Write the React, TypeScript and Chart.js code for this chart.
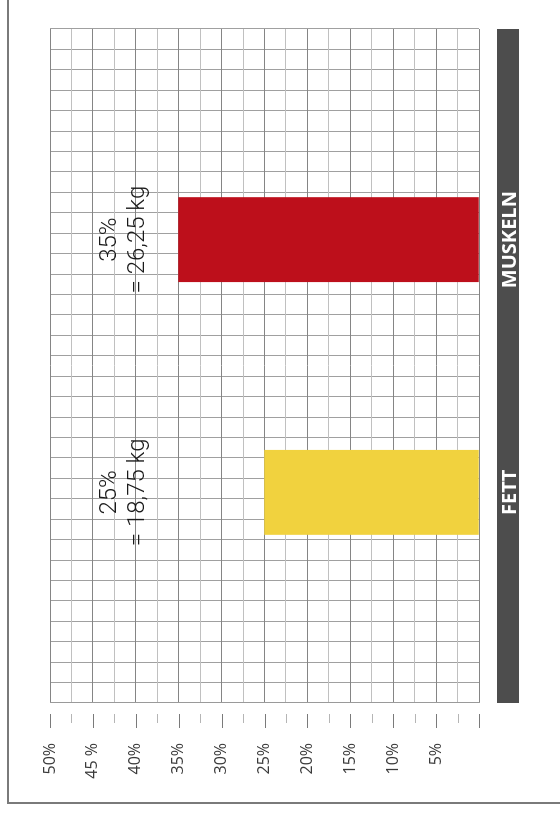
import React, { useEffect, useRef } from 'react';
import { Chart, registerables } from 'chart.js';

Chart.register(...registerables);

// ---- data ----
const categories = ['', '', 'FETT', '', '', 'MUSKELN', '', ''];
const percentValues: (number | null)[] = [null, null, 25, null, null, 35, null, null];
const kgLabels = ['', '', '= 18,75 kg', '', '', '= 26,25 kg', '', ''];
const barColors = ['', '', '#f1d23e', '', '', '#bd0f1b', '', ''];
const tickLabels = ['', '5%', '10%', '15%', '20%', '25%', '30%', '35%', '40%', '45 %', '50%'];

// ---- layout / style constants ----
const W = 802; // chart frame width (page height)
const H = 552; // chart frame height (page width)
const LINE1_AT = 43; // value-axis position of first annotation line
const LINE2_AT = 39.7; // value-axis position of second annotation line

const bandPlugin = {
  id: 'band',
  beforeDraw(chart: any) {
    const { ctx, chartArea } = chart;
    const xs = chart.scales.x;
    ctx.save();
    ctx.fillStyle = '#4d4d4d';
    ctx.fillRect(chartArea.left, xs.top + 18, chartArea.right - chartArea.left, 22);
    ctx.restore();
  },
};

const tickMarksPlugin = {
  id: 'tickMarks',
  afterDraw(chart: any) {
    const { ctx, chartArea } = chart;
    const ys = chart.scales.y;
    ctx.save();
    ctx.lineWidth = 1;
    ys.ticks.forEach((t: any) => {
      const y = Math.round(ys.getPixelForValue(t.value)) + 0.5;
      const major = t.value % 5 === 0;
      ctx.strokeStyle = major ? '#7a7a7a' : '#b5b5b5';
      ctx.beginPath();
      ctx.moveTo(chartArea.left - 11, y);
      ctx.lineTo(chartArea.left - (major ? 25 : 20), y);
      ctx.stroke();
    });
    ctx.restore();
  },
};

const valueLabelsPlugin = {
  id: 'valueLabels',
  afterDatasetsDraw(chart: any) {
    const { ctx } = chart;
    const meta = chart.getDatasetMeta(0);
    const ys = chart.scales.y;
    ctx.save();
    ctx.font = '300 24px Roboto';
    ctx.fillStyle = '#1a1a1a';
    ctx.textAlign = 'center';
    ctx.textBaseline = 'middle';
    percentValues.forEach((v, i) => {
      if (v == null) return;
      const x = meta.data[i].x;
      ctx.fillText(`${v}%`, x, ys.getPixelForValue(LINE1_AT));
      ctx.fillText(kgLabels[i], x, ys.getPixelForValue(LINE2_AT));
    });
    ctx.restore();
  },
};

export default function App() {
  const ref = useRef<HTMLCanvasElement>(null);

  useEffect(() => {
    const chart = new Chart(ref.current as HTMLCanvasElement, {
      type: 'bar',
      data: {
        labels: categories,
        datasets: [
          {
            data: percentValues,
            backgroundColor: barColors,
            barPercentage: 1,
            categoryPercentage: 1,
            borderWidth: 0,
            xAxisID: 'x',
            yAxisID: 'y',
          } as any,
        ],
      },
      options: {
        responsive: false,
        animation: false,
        layout: { padding: { top: 42, right: 29, left: 0, bottom: 0 } },
        plugins: { legend: { display: false }, tooltip: { enabled: false } },
        scales: {
          x: {
            type: 'category',
            position: 'bottom',
            grid: { display: false },
            border: { display: false },
            ticks: {
              color: '#ffffff',
              font: { family: '"Open Sans"', size: 20, weight: 'bold', lineHeight: 1.2 },
              padding: 11,
              maxRotation: 0,
              minRotation: 0,
              autoSkip: false,
            },
            afterFit: (s: any) => {
              s.height = 81;
            },
          },
          xg: {
            type: 'linear',
            position: 'bottom',
            min: 0,
            max: 32,
            ticks: { display: false, stepSize: 1 },
            grid: { color: '#a0a0a0', drawTicks: false },
            border: { display: false },
            afterFit: (s: any) => {
              s.height = 0;
            },
          },
          y: {
            type: 'linear',
            min: 0,
            max: 50,
            ticks: {
              stepSize: 2.5,
              autoSkip: false,
              padding: 0,
              color: '#3a3a3a',
              font: { family: '"Open Sans"', size: 16 },
              callback: (v: any) => (Number(v) % 5 === 0 ? tickLabels[Number(v) / 5] : ''),
            },
            grid: {
              drawTicks: true,
              tickLength: 40,
              tickColor: 'rgba(0,0,0,0)',
              color: (c: any) => (c.tick && c.tick.value % 5 === 0 ? '#858585' : '#c0c0c0'),
            },
            border: { color: '#9a9a9a' },
            afterFit: (s: any) => {
              s.width = 99;
            },
          },
        } as any,
      },
      plugins: [bandPlugin, tickMarksPlugin, valueLabelsPlugin],
    });
    return () => chart.destroy();
  }, []);

  return (
    <div
      style={{
        position: 'absolute',
        left: 0,
        top: 0,
        width: 560,
        height: 816,
        overflow: 'hidden',
        background: '#ffffff',
      }}
    >
      <div
        style={{
          position: 'absolute',
          left: 7,
          top: -4,
          width: 551,
          height: 806,
          borderLeft: '2px solid #7a7a7a',
          borderBottom: '2px solid #7a7a7a',
        }}
      />
      <div
        style={{
          position: 'absolute',
          left: 8 + (552 - W) / 2,
          top: (802 - H) / 2,
          width: W,
          height: H,
          transform: 'rotate(-90deg)',
          transformOrigin: '50% 50%',
        }}
      >
        <canvas ref={ref} width={W} height={H} style={{ display: 'block', width: W, height: H }} />
      </div>
    </div>
  );
}
